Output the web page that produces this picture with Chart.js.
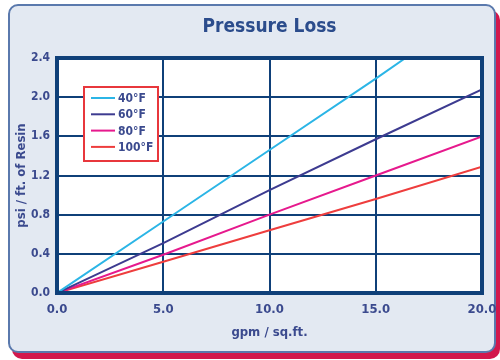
<!DOCTYPE html>
<html>
<head>
<meta charset="utf-8">
<script src="https://cdn.jsdelivr.net/npm/chart.js@4.4.1/dist/chart.umd.min.js"></script>
<style>
  html, body { margin: 0; padding: 0; background: #ffffff; overflow: hidden; }
  #wrap { position: relative; width: 500px; height: 360px; overflow: hidden; }
  #panel {
    position: absolute; left: 8px; top: 4px; width: 484px; height: 345px;
    background: #e3e9f2; border: 2px solid #5a79ad; border-radius: 10px;
    box-shadow: 4px 6px 0 #d2184c;
  }
  #chart { position: absolute; left: 0; top: 0; }
</style>
</head>
<body>
<div id="wrap">
  <div id="panel"></div>
  <canvas id="chart" width="500" height="360"></canvas>
</div>
<script>
// Flow rate (gpm / sq.ft.) sample points
const gpm = [0, 5, 10, 15, 20];
const gpm40 = [0, 5, 10, 15, 16.4];

// Pressure loss (psi / ft. of resin) for each water temperature
const loss40F = [0, 0.73, 1.46, 2.19, 2.4];
const loss60F = [0, 0.51, 1.05, 1.57, 2.08];
const loss80F = [0, 0.39, 0.80, 1.20, 1.60];
const loss100F = [0, 0.32, 0.64, 0.96, 1.29];

const seriesLabels = ['40°F', '60°F', '80°F', '100°F'];
const seriesColors = ['#2bb5e6', '#3d3b90', '#e6198d', '#ee3d3d'];

const yTicks = [0, 0.4, 0.8, 1.2, 1.6, 2.0, 2.4];
const xTicks = [0, 5, 10, 15, 20];

const FONT = '"DejaVu Sans Condensed", "Liberation Sans Narrow", "DejaVu Sans", sans-serif';
const NAVY = '#0f4079';
const LABEL = '#3b4a8e';

const toPoints = (xs, ys) => xs.map((x, i) => ({ x: x, y: ys[i] }));

// White plot background, heavy frame, title and boxed legend
const decor = {
  id: 'decor',
  beforeDraw(chart) {
    const { ctx, chartArea: a } = chart;
    ctx.save();
    ctx.fillStyle = '#ffffff';
    ctx.fillRect(a.left, a.top, a.right - a.left, a.bottom - a.top);
    ctx.restore();
  },
  afterDatasetsDraw(chart) {
    const { ctx, chartArea: a } = chart;
    ctx.save();
    // frame
    ctx.strokeStyle = NAVY;
    ctx.lineWidth = 4;
    ctx.strokeRect(a.left, a.top, a.right - a.left, a.bottom - a.top);

    // title
    ctx.fillStyle = '#2b4c8c';
    ctx.font = 'bold 19px ' + FONT;
    ctx.textAlign = 'center';
    ctx.textBaseline = 'middle';
    ctx.fillText('Pressure Loss', (a.left + a.right) / 2, 27);

    // legend box
    const bx = 84, by = 87, bw = 74, bh = 74;
    ctx.fillStyle = '#ffffff';
    ctx.fillRect(bx, by, bw, bh);
    ctx.strokeStyle = '#e8373c';
    ctx.lineWidth = 2;
    ctx.strokeRect(bx, by, bw, bh);
    ctx.font = 'bold 12px ' + FONT;
    ctx.textAlign = 'left';
    chart.data.datasets.forEach((ds, i) => {
      const y = 98 + i * 16.3;
      ctx.strokeStyle = ds.borderColor;
      ctx.lineWidth = 2;
      ctx.beginPath();
      ctx.moveTo(91, y);
      ctx.lineTo(115, y);
      ctx.stroke();
      ctx.fillStyle = LABEL;
      ctx.fillText(ds.label, 118, y + 1);
    });
    ctx.restore();
  }
};

new Chart(document.getElementById('chart'), {
  type: 'line',
  data: {
    datasets: [
      { label: seriesLabels[0], data: toPoints(gpm40, loss40F), borderColor: seriesColors[0] },
      { label: seriesLabels[1], data: toPoints(gpm, loss60F), borderColor: seriesColors[1] },
      { label: seriesLabels[2], data: toPoints(gpm, loss80F), borderColor: seriesColors[2] },
      { label: seriesLabels[3], data: toPoints(gpm, loss100F), borderColor: seriesColors[3] }
    ]
  },
  options: {
    responsive: false,
    animation: false,
    devicePixelRatio: 1,
    layout: { padding: { left: 10, right: 4, top: 58, bottom: 17 } },
    elements: {
      line: { borderWidth: 2, tension: 0 },
      point: { radius: 0 }
    },
    plugins: {
      legend: { display: false },
      title: { display: false },
      tooltip: { enabled: false }
    },
    scales: {
      x: {
        type: 'linear',
        min: 0, max: 20,
        afterBuildTicks(scale) { scale.ticks = xTicks.map(v => ({ value: v })); },
        afterFit(scale) { scale.height = 50; scale.paddingRight = 18; },
        grid: { color: NAVY, lineWidth: 2, drawTicks: false },
        border: { display: false },
        ticks: {
          padding: 9,
          color: LABEL,
          font: { family: FONT, size: 13, weight: 'bold' },
          callback: v => Number(v).toFixed(1)
        },
        title: {
          display: true,
          text: 'gpm / sq.ft.',
          color: LABEL,
          font: { family: FONT, size: 13, weight: 'bold' },
          padding: { top: 0, bottom: 3 }
        }
      },
      y: {
        type: 'linear',
        min: 0, max: 2.4,
        afterBuildTicks(scale) { scale.ticks = yTicks.map(v => ({ value: v })); },
        afterFit(scale) { scale.width = 47; },
        grid: { color: NAVY, lineWidth: 2, drawTicks: false },
        border: { display: false },
        ticks: {
          padding: 7,
          color: LABEL,
          font: { family: FONT, size: 12, weight: 'bold' },
          callback: v => Number(v).toFixed(1)
        },
        title: {
          display: true,
          text: 'psi / ft. of Resin',
          color: LABEL,
          font: { family: FONT, size: 13, weight: 'bold' },
          padding: { top: 4, bottom: 0 }
        }
      }
    }
  },
  plugins: [decor]
});
</script>
</body>
</html>
